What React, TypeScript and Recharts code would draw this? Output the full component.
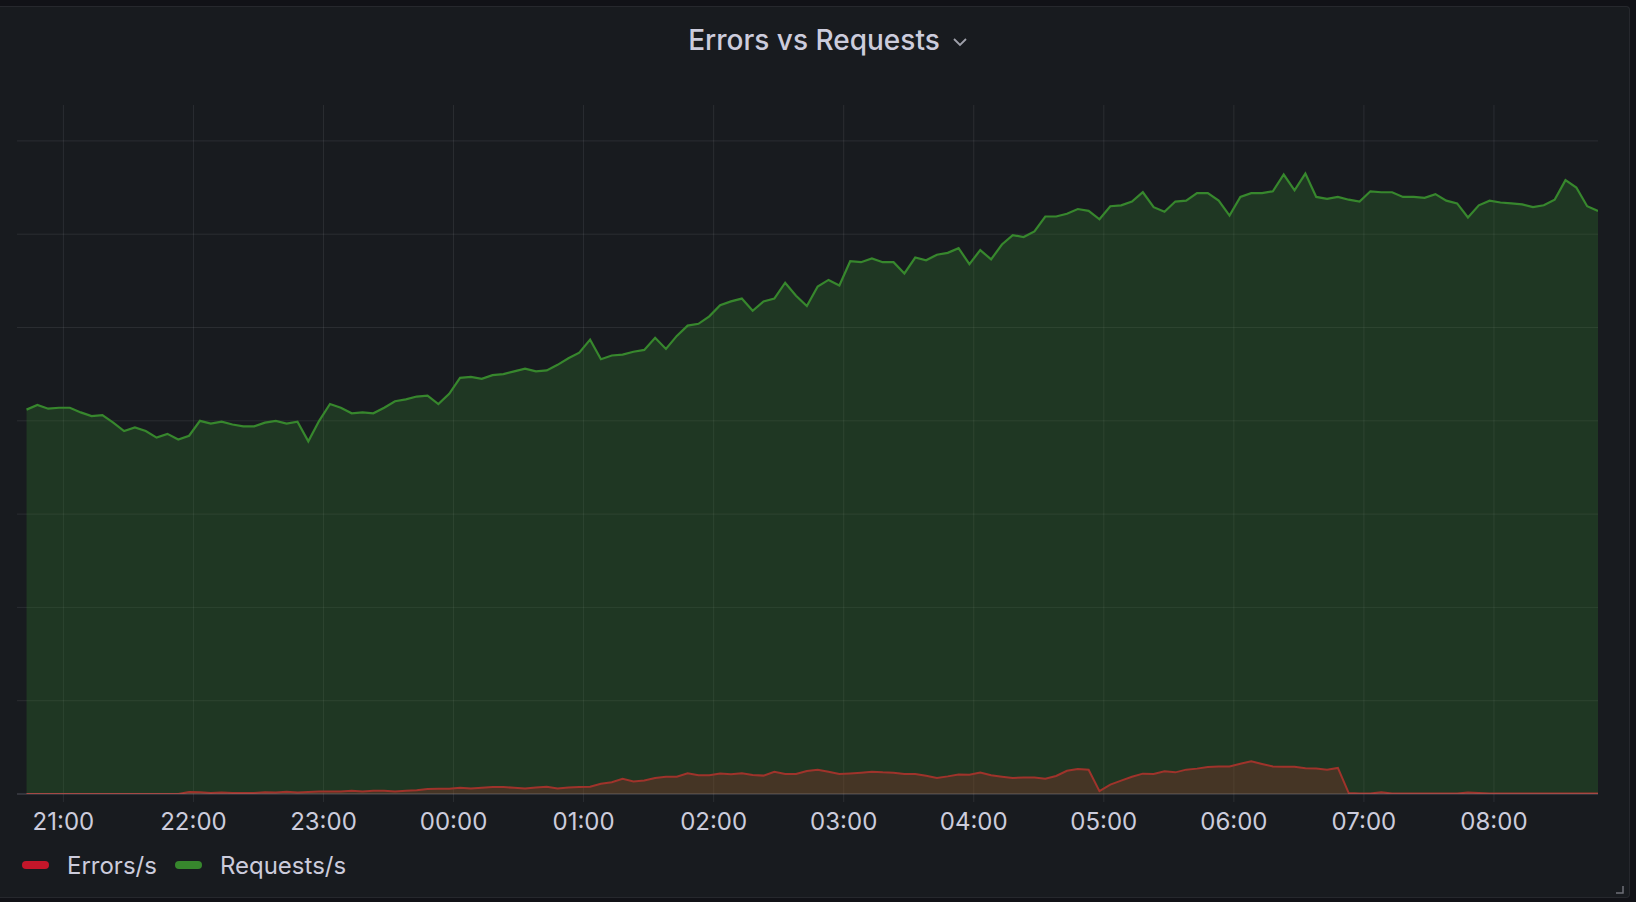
import * as React from "react";
import { Area, AreaChart, CartesianGrid, XAxis, YAxis } from "recharts";

// sampling grid: minutes relative to 21:00, one sample every 5 minutes
const START_MIN = -17;
const STEP_MIN = 5;

const requestsPerSec = [
  412, 417, 413, 414, 414, 409, 405, 406, 398, 389,
  393, 389, 382, 386, 380, 384, 400, 397, 399, 396,
  394, 394, 398, 400, 397, 399, 378, 400, 418, 414,
  408, 409, 408, 414, 421, 423, 426, 427, 418, 429,
  446, 447, 445, 449, 450, 453, 456, 453, 454, 460,
  467, 473, 487, 466, 470, 471, 474, 476, 489, 477,
  491, 502, 504, 512, 524, 528, 531, 518, 528, 531,
  548, 534, 523, 544, 551, 545, 571, 570, 574, 570,
  570, 558, 575, 572, 578, 580, 585, 568, 583, 573,
  589, 599, 597, 603, 619, 619, 622, 627, 625, 616,
  630, 631, 635, 645, 629, 624, 635, 636, 644, 644,
  636, 620, 640, 644, 644, 646, 664, 647, 665, 640,
  638, 640, 637, 635, 646, 645, 645, 640, 640, 639,
  643, 636, 633, 618, 631, 636, 634, 633, 632, 629,
  631, 637, 658, 650, 630, 625,
];

const errorsPerSec = [
  0, 0, 0, 0, 0, 0, 0, 0, 0, 0, 0, 0, 0, 0, 0,
  2.1, 2, 1.2, 1.5, 1.1, 1.2, 1.1, 2, 1.5, 2.5, 1.5,
  2.1, 2.8, 2.8, 2.8, 3.5, 2.8, 3.5, 3.5, 2.8, 3.5,
  3.9, 5.3, 5.6, 5.6, 6.7, 6, 6.7, 7.4, 7.4, 6.7,
  6, 7, 7.8, 6, 7, 7.4, 7.8, 10.9, 12.6, 16.2,
  13.3, 14.4, 17.2, 18.6, 18.6, 22.2, 20.1, 20.1, 21.9, 21.2,
  22.2, 20.4, 19.7, 23.7, 21.5, 21.5, 24.7, 26.1, 23.9, 21.4,
  22.1, 22.9, 23.9, 23.2, 22.9, 21.4, 21.4, 19.6, 17.1, 18.9,
  21, 20.7, 22.9, 20, 18.5, 17.1, 17.8, 17.8, 16.4, 19.3,
  24.9, 26.8, 26, 3, 10, 14.3, 18.5, 21.8, 21.4, 24.3,
  23.2, 26.1, 27.2, 28.9, 29.6, 29.6, 32.5, 35, 32.2, 29.6,
  29.3, 29.3, 27.5, 27.2, 26.1, 27.9,
  1, 0.5, 0.5, 1.8, 0.5, 0.5, 0.5, 0.5, 0.5, 0.5, 0.5, 1.5,
  1, 0.5, 0.5, 0.5, 0.5, 0.5, 0.5, 0.5, 0.5, 0.5, 0.5, 0.5,
];

const hourTicks = [0, 60, 120, 180, 240, 300, 360, 420, 480, 540, 600, 660];
const hourLabels = [
  "21:00", "22:00", "23:00", "00:00", "01:00", "02:00",
  "03:00", "04:00", "05:00", "06:00", "07:00", "08:00",
];
const valueTicks = [100, 200, 300, 400, 500, 600, 700];

const FONT = "Inter, 'Noto Sans', 'DejaVu Sans', sans-serif";
const TEXT = "#ccccdc";
const RED = "#C4162A";
const GREEN = "#37872D";
const GRID = "rgba(204, 204, 220, 0.1)";

const chartData = requestsPerSec.map((req, i) => ({
  t: START_MIN + i * STEP_MIN,
  requests: req,
  errors: errorsPerSec[i],
}));

function LegendItem({ color, label }: { color: string; label: string }) {
  return (
    <div style={{ display: "flex", alignItems: "center", marginRight: 18 }}>
      <div
        style={{
          width: 27,
          height: 8,
          borderRadius: 4,
          background: color,
          marginRight: 18,
        }}
      />
      <span style={{ fontSize: 24, color: TEXT }}>{label}</span>
    </div>
  );
}

export default function App() {
  return (
    <div
      style={{
        position: "absolute",
        left: 0,
        top: 0,
        width: 1636,
        height: 902,
        background: "#111217",
        fontFamily: FONT,
        overflow: "hidden",
      }}
    >
      <div
        style={{
          position: "absolute",
          left: -4,
          top: 6,
          width: 1634,
          height: 892,
          background: "#181b1f",
          border: "1px solid rgba(204, 204, 220, 0.08)",
          borderRadius: 4,
          boxSizing: "border-box",
        }}
      />
      <div
        style={{
          position: "absolute",
          left: 0,
          width: 1628,
          top: 20,
          textAlign: "center",
          fontSize: 28,
          fontWeight: 500,
          color: TEXT,
          lineHeight: "40px",
        }}
      >
        Errors vs Requests
      </div>
      <svg
        width={1636}
        height={902}
        style={{ position: "absolute", left: 0, top: 0, pointerEvents: "none" }}
      >
        <polyline
          points="954,39 960,45 966,39"
          fill="none"
          stroke="#9fa1ab"
          strokeWidth={1.8}
        />
        <polyline
          points="1616,893 1623,893 1623,886"
          fill="none"
          stroke="#6e7078"
          strokeWidth={1.5}
        />
      </svg>
      <div style={{ position: "absolute", left: 0, top: 0 }}>
        <AreaChart
          width={1636}
          height={902}
          data={chartData}
          margin={{ top: 105, right: 38, left: 17, bottom: 68 }}
        >
          <CartesianGrid
            stroke={GRID}
            strokeWidth={1}
            horizontalValues={valueTicks}
            verticalValues={hourTicks}
          />
          <XAxis
            dataKey="t"
            type="number"
            domain={[-21.4, 708]}
            allowDataOverflow
            ticks={hourTicks}
            tickFormatter={(v: number) => hourLabels[hourTicks.indexOf(v)] ?? ""}
            height={40}
            tickSize={8}
            tickMargin={11}
            tickLine={{ stroke: GRID }}
            axisLine={{ stroke: "rgba(204, 204, 220, 0.15)", strokeWidth: 2 }}
            tick={{ fill: TEXT, fontSize: 24, fontFamily: FONT }}
            interval={0}
          />
          <YAxis
            hide
            type="number"
            domain={[0, 738.5]}
            ticks={valueTicks}
            allowDataOverflow
          />
          <Area
            type="linear"
            dataKey="errors"
            name="Errors/s"
            stroke={RED}
            strokeWidth={2}
            fill={RED}
            fillOpacity={0.3}
            dot={false}
            activeDot={false}
            isAnimationActive={false}
          />
          <Area
            type="linear"
            dataKey="requests"
            name="Requests/s"
            stroke={GREEN}
            strokeWidth={2.2}
            fill={GREEN}
            fillOpacity={0.26}
            dot={false}
            activeDot={false}
            isAnimationActive={false}
          />
        </AreaChart>
      </div>
      <div
        style={{
          position: "absolute",
          left: 22,
          top: 848,
          display: "flex",
          alignItems: "center",
          height: 34,
        }}
      >
        <LegendItem color={RED} label="Errors/s" />
        <LegendItem color={GREEN} label="Requests/s" />
      </div>
    </div>
  );
}
